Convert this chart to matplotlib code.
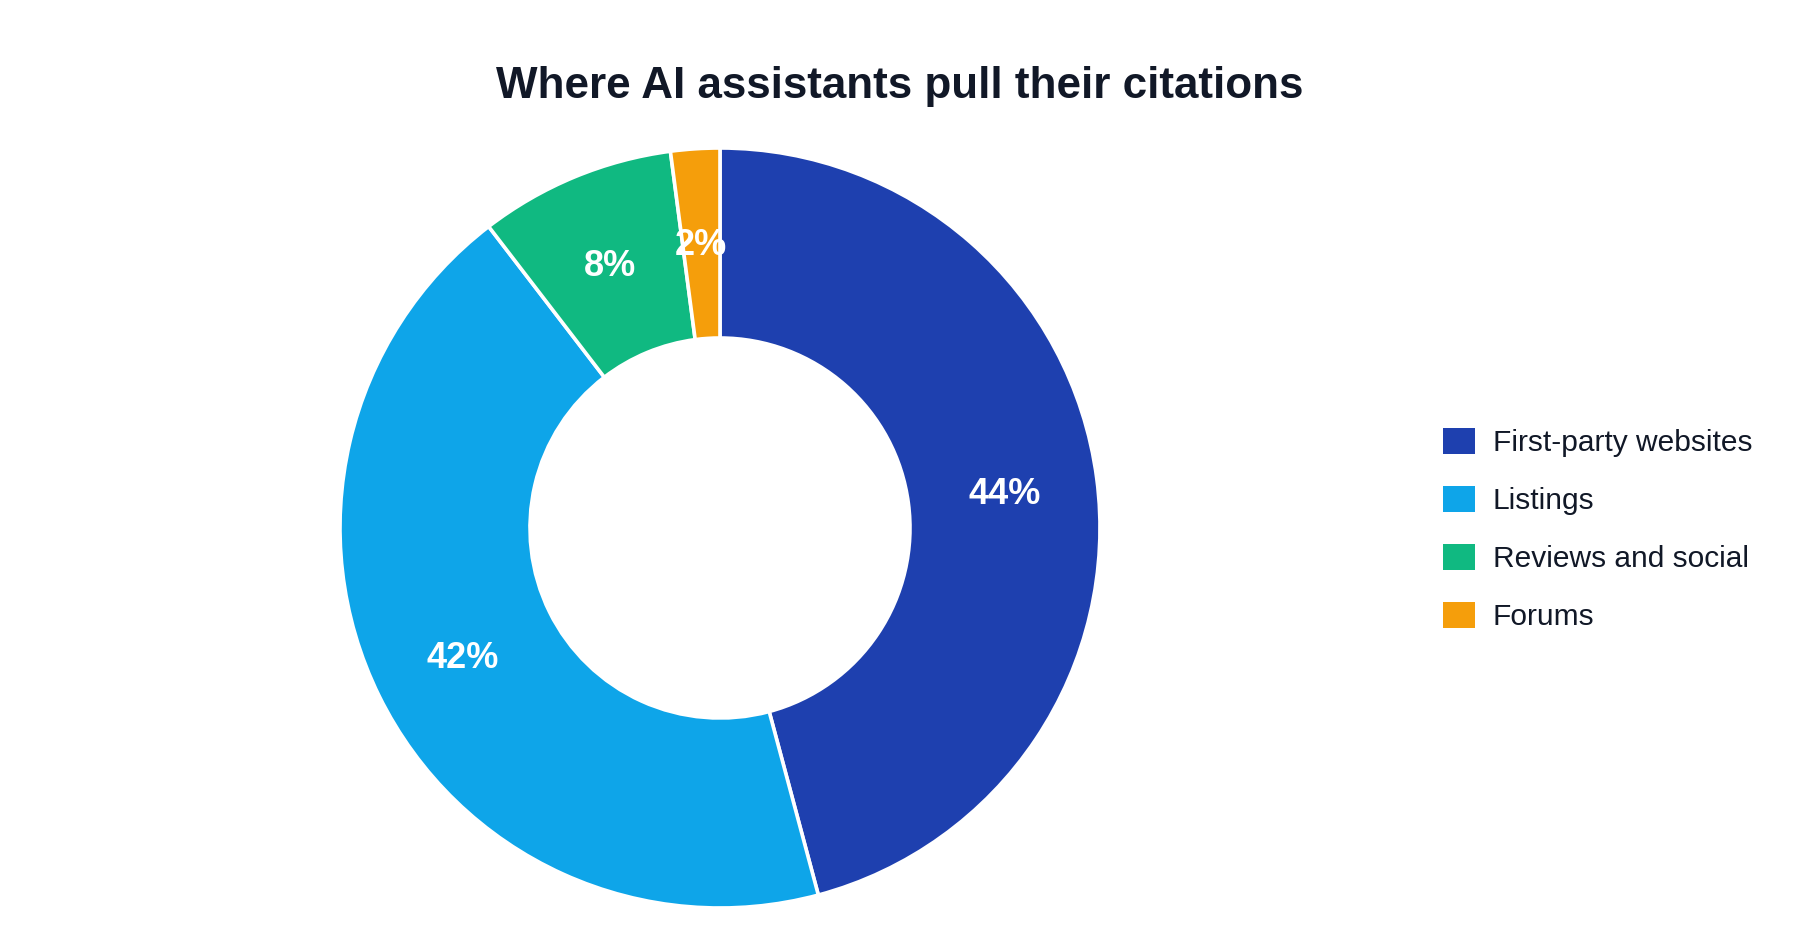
import matplotlib
matplotlib.use("Agg")
from matplotlib import pyplot as plt
import numpy as np

plt.rcParams['font.family'] = ['Liberation Sans', 'DejaVu Sans']

# data
sources = ['First-party websites', 'Listings', 'Reviews and social', 'Forums']
shares = [44, 42, 8, 2]
colors = ['#1E40AF', '#0EA5E9', '#10B981', '#F59E0B']
title = 'Where AI assistants pull their citations'

fig = plt.figure(figsize=(18, 9.4), dpi=100)
fig.patch.set_facecolor('white')

ax = fig.add_axes([0.17833, 0.01383, 0.44333, 0.84894])
wedges, _ = ax.pie(shares, colors=colors, startangle=90, counterclock=False,
                   radius=1.0,
                   wedgeprops=dict(width=0.5, edgecolor='white', linewidth=2.6))

# labels at ring middle, showing the raw values
total = sum(shares)
acc = 0
for v in shares:
    mid = 90 - 360 * (acc + v / 2) / total
    acc += v
    r = 0.755
    ax.text(r * np.cos(np.radians(mid)), r * np.sin(np.radians(mid)) - 0.01, f'{v}%',
            ha='center', va='center', color='white', fontsize=26, fontweight='bold')

ax.set_xlim(-1.05, 1.05)
ax.set_ylim(-1.05, 1.05)
ax.set_aspect('equal')
ax.axis('off')

fig.text(0.5, 0.908, title, ha='center', va='center', fontsize=31.7,
         fontweight='bold', color='#111827')

leg = fig.legend(wedges, sources, loc='center left',
                 bbox_to_anchor=(1443 / 1800, 0.4365), frameon=False,
                 fontsize=21.5, handlelength=1.07, handleheight=0.95,
                 handletextpad=0.6, labelspacing=0.97, borderpad=0,
                 borderaxespad=0)
for t in leg.get_texts():
    t.set_color('#111827')
for h in leg.legend_handles:
    h.set_edgecolor('none')

fig.savefig('out.png', dpi=100, facecolor='white')
